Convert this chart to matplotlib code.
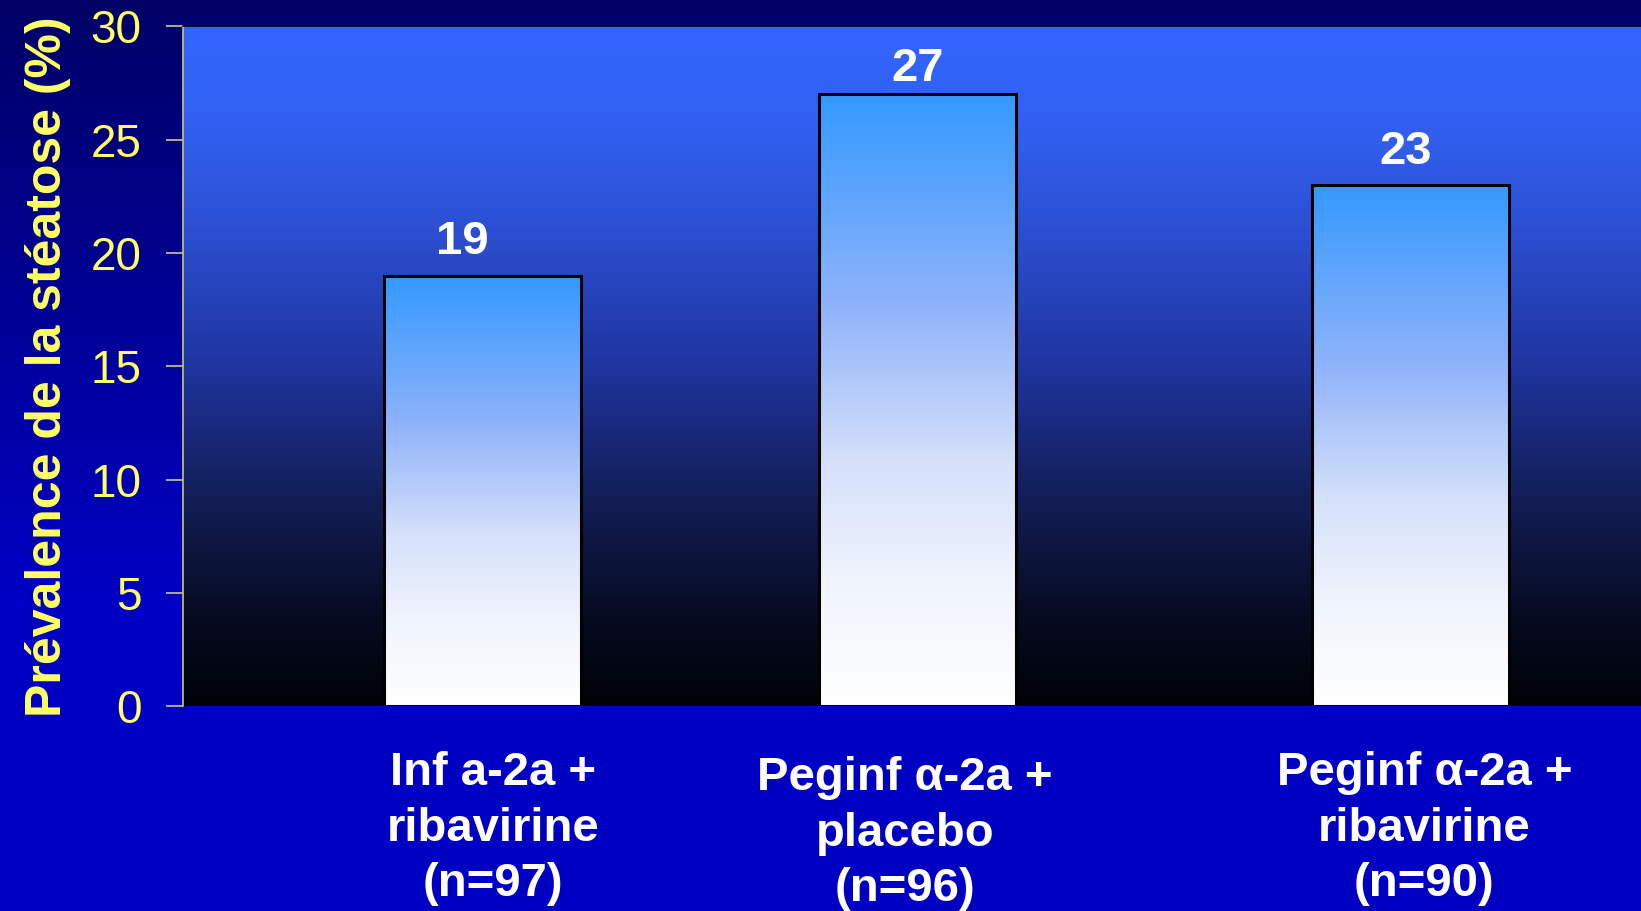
import numpy as np
import matplotlib
matplotlib.use('Agg')
import matplotlib.pyplot as plt
from matplotlib.colors import LinearSegmentedColormap
import matplotlib.transforms as mtransforms

# chart data
categories = ['Inf a-2a +\nribavirine\n(n=97)',
              'Peginf α-2a +\nplacebo\n(n=96)',
              'Peginf α-2a +\nribavirine\n(n=90)']
values = [19, 27, 23]
yticks = [0, 5, 10, 15, 20, 25, 30]

plt.rcParams['font.family'] = ['Liberation Sans', 'DejaVu Sans']

fig = plt.figure(figsize=(16.41, 9.11), dpi=100)

# figure background gradient (navy at top -> royal blue lower down)
bg = fig.add_axes([0, 0, 1, 1], zorder=-10)
bg_cmap = LinearSegmentedColormap.from_list('bg', [(0.0, '#0000C4'), (0.35, '#0000C2'), (1.0, '#000066')])
bg.imshow(np.linspace(0, 1, 256).reshape(-1, 1)[::-1], cmap=bg_cmap, aspect='auto', extent=[0, 1, 0, 1])
bg.set_axis_off()

ax = fig.add_axes([0.1115, 0.2245, 0.8885, 0.7465])
ax.set_xlim(0, 1)
ax.set_ylim(0, 30)

# plot area gradient (bright blue top -> black bottom)
area_cmap = LinearSegmentedColormap.from_list('area', [
    (0.0, '#000208'), (0.12, '#050a1e'), (0.3, '#121d55'),
    (0.5, '#1f35a0'), (0.7, '#2c4fd2'), (0.85, '#3160f0'), (1.0, '#3366FF')])
ax.imshow(np.linspace(0, 1, 256).reshape(-1, 1), cmap=area_cmap, origin='lower',
          aspect='auto', extent=[0, 1, 0, 30], zorder=0)

# bars with blue -> white gradient
bar_cmap = LinearSegmentedColormap.from_list('bar', [
    (0.0, '#FFFFFF'), (0.2, '#F0F4FD'), (0.4, '#D5E0FA'), (0.65, '#90B3FB'), (1.0, '#3399FF')])
positions = [0.2054, 0.5038, 0.8419]
bar_width = 0.135
bars = ax.bar(positions, values, width=bar_width, facecolor='none',
              edgecolor='black', linewidth=2.2, zorder=3)
for b in bars:
    x0, w, h = b.get_x(), b.get_width(), b.get_height()
    im = ax.imshow(np.linspace(0, 1, 256).reshape(-1, 1), cmap=bar_cmap, origin='lower',
                   aspect='auto', extent=[x0, x0 + w, 0, h], zorder=2)
    im.set_clip_path(b)

# value labels
label_dx = [-0.014, 0.0, -0.003]
label_dy = [8.5, 2.6, 8.0]
for p, v, dx, dy in zip(positions, values, label_dx, label_dy):
    ax.annotate(str(v), (p + dx, v), xytext=(0, dy), textcoords='offset points',
                ha='center', va='bottom', color='white', fontsize=34, fontweight='bold')

ax.set_xlim(0, 1)
ax.set_ylim(0, 30)
ax.set_xticks([])
ax.set_yticks(yticks)
ax.tick_params(axis='y', length=12, width=1.2, color='#C8C890', pad=18,
               labelsize=33, labelcolor='#FFFF66')
for s in ['right', 'bottom']:
    ax.spines[s].set_visible(False)
ax.spines['left'].set_color('#C8C870')
ax.spines['left'].set_linewidth(1.2)
ax.spines['top'].set_color('black')
ax.spines['top'].set_linewidth(1.2)

ax.set_ylabel('Prévalence de la stéatose (%)', fontsize=36, fontweight='bold',
              color='#FFFF66', labelpad=14)

# category labels below the plot area
label_x = [0.2126, 0.4952, 0.8515]
label_top = [0.1756, 0.170, 0.1756]
trans = mtransforms.blended_transform_factory(ax.transData, fig.transFigure)
for lx, ly, c in zip(label_x, label_top, categories):
    ax.text(lx, ly, c, transform=trans, ha='center', va='top', multialignment='center',
            color='white', fontsize=34, fontweight='bold', linespacing=1.34, clip_on=False)

fig.savefig('out.png', dpi=100)
